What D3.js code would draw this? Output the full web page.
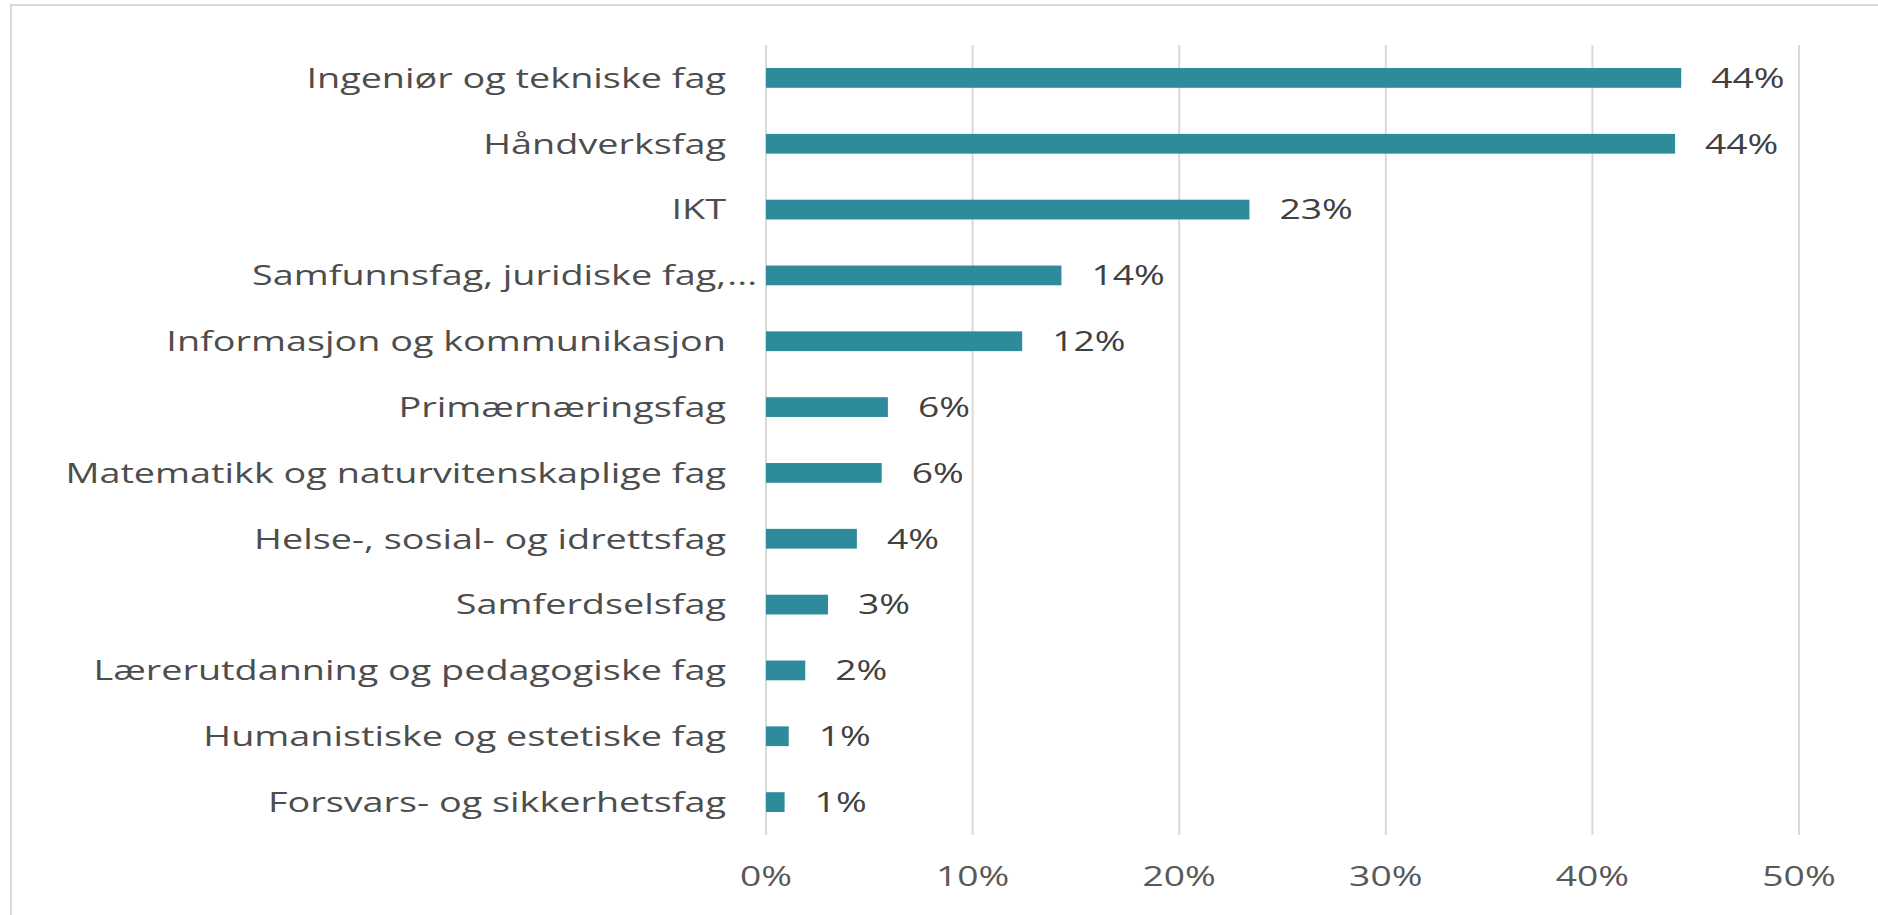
<!DOCTYPE html>
<html>
<head>
<meta charset="utf-8">
<script src="https://cdn.jsdelivr.net/npm/d3@7"></script>
<style>
  html, body { margin: 0; padding: 0; background: #fff; overflow: hidden; }
  text { font-family: "Open Sans", "Noto Sans", sans-serif; }
</style>
</head>
<body>
<div id="chart"></div>
<script>
// categories, top to bottom
const categories = [
  "Ingeniør og tekniske fag",
  "Håndverksfag",
  "IKT",
  "Samfunnsfag, juridiske fag,...",
  "Informasjon og kommunikasjon",
  "Primærnæringsfag",
  "Matematikk og naturvitenskaplige fag",
  "Helse-, sosial- og idrettsfag",
  "Samferdselsfag",
  "Lærerutdanning og pedagogiske fag",
  "Humanistiske og estetiske fag",
  "Forsvars- og sikkerhetsfag"
];
// share
const shares = [0.443, 0.440, 0.234, 0.143, 0.124, 0.059, 0.056, 0.044, 0.030, 0.019, 0.011, 0.009];
const tickValues = [0, 0.1, 0.2, 0.3, 0.4, 0.5];

const width = 1878, height = 915;
const margin = { top: 45, right: 79, bottom: 80, left: 766 };
const stretch = 1.35; // the source picture is widened horizontally
const fontSize = 28;

const svg = d3.select("#chart").append("svg")
  .attr("width", width)
  .attr("height", height);

// frame (only left and top edges are visible in the crop)
svg.append("rect")
  .attr("x", 11).attr("y", 5)
  .attr("width", width + 20).attr("height", height + 20)
  .attr("fill", "none")
  .attr("stroke", "#d9d9d9")
  .attr("stroke-width", 2);

const x = d3.scaleLinear()
  .domain([0, 0.5])
  .range([margin.left, width - margin.right]);

const y = d3.scaleBand()
  .domain(categories)
  .range([margin.top, height - margin.bottom])
  .paddingInner(0.7)
  .paddingOuter(0.35);

// gridlines
svg.append("g")
  .selectAll("line")
  .data(tickValues)
  .join("line")
  .attr("x1", d => x(d)).attr("x2", d => x(d))
  .attr("y1", margin.top).attr("y2", height - margin.bottom)
  .attr("stroke", "#d9d9d9")
  .attr("stroke-width", 2);

// tick labels
const pct = d3.format(".0%");
svg.append("g")
  .selectAll("g")
  .data(tickValues)
  .join("g")
  .attr("transform", d => `translate(${x(d)},${height - margin.bottom + 41}) scale(1.33,1)`)
  .append("text")
  .attr("text-anchor", "middle")
  .attr("dy", "0.35em")
  .attr("font-size", fontSize)
  .attr("fill", "#595959")
  .text(d => pct(d));

// bars
svg.append("g")
  .selectAll("rect")
  .data(shares)
  .join("rect")
  .attr("x", x(0))
  .attr("y", (d, i) => y(categories[i]))
  .attr("width", d => x(d) - x(0))
  .attr("height", y.bandwidth())
  .attr("fill", "#2e8b9b");

// category labels; a truncated label lets its "..." hang past the edge
const catLabel = svg.append("g")
  .selectAll("g")
  .data(categories)
  .join("g")
  .attr("transform", d => `translate(${x(0) - 40},${y(d) + y.bandwidth() / 2}) scale(${stretch},1)`);

catLabel.append("text")
  .attr("text-anchor", "end")
  .attr("dy", "0.35em")
  .attr("font-size", fontSize)
  .attr("fill", "#4d4d4d")
  .text(d => d.replace(/\.\.\.$/, ""));

catLabel.filter(d => d.endsWith("..."))
  .append("text")
  .attr("text-anchor", "start")
  .attr("x", 1)
  .attr("dy", "0.35em")
  .attr("font-size", fontSize)
  .attr("fill", "#4d4d4d")
  .text("...");

// value labels
svg.append("g")
  .selectAll("g")
  .data(shares)
  .join("g")
  .attr("transform", (d, i) => `translate(${x(d) + 30},${y(categories[i]) + y.bandwidth() / 2}) scale(1.33,1)`)
  .append("text")
  .attr("text-anchor", "start")
  .attr("dy", "0.35em")
  .attr("font-size", fontSize)
  .attr("fill", "#404040")
  .text(d => pct(d));
</script>
</body>
</html>
